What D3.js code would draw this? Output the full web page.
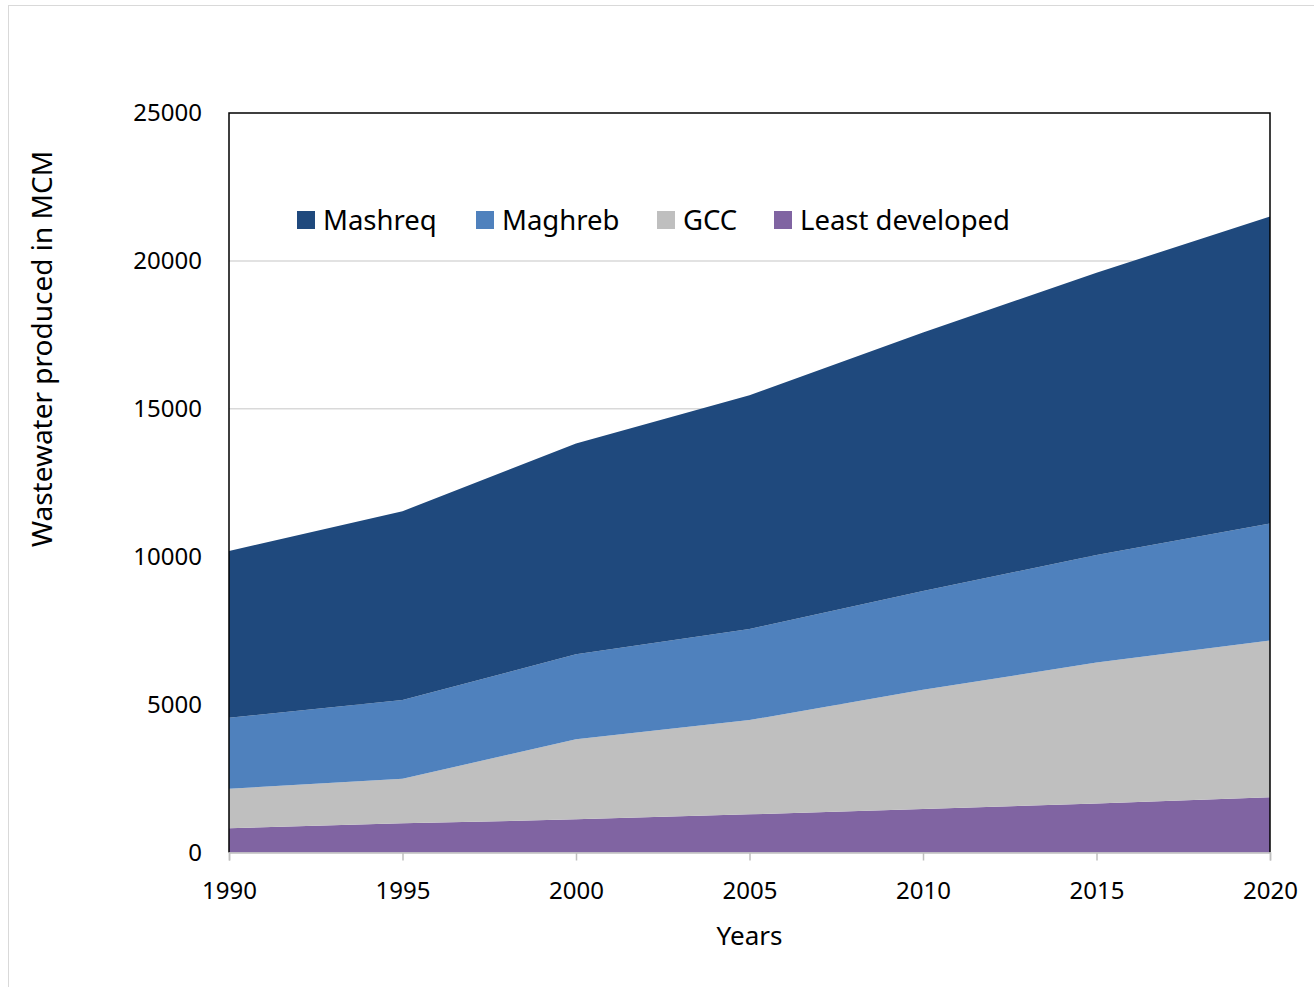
<!DOCTYPE html>
<html><head><meta charset="utf-8">
<script src="https://cdn.jsdelivr.net/npm/d3@7"></script>
<style>body{margin:0;background:#fff}svg{display:block}text{font-family:"Noto Sans","Open Sans",sans-serif;fill:#000}</style>
</head><body>
<svg id="c" width="1314" height="987"></svg>
<script>
const years = [1990, 1995, 2000, 2005, 2010, 2015, 2020];
const seriesNames = ["Mashreq", "Maghreb", "GCC", "Least developed"];
const leastDeveloped = [820, 985, 1120, 1290, 1470, 1660, 1870];
const gcc = [1335, 1510, 2705, 3186, 4030, 4760, 5300];
const maghreb = [2400, 2657, 2875, 3084, 3340, 3640, 3950];
const mashreq = [5640, 6385, 7125, 7895, 8740, 9540, 10380];
const yTicks = [0, 5000, 10000, 15000, 20000, 25000];
const colors = {"Mashreq": "#1F497D", "Maghreb": "#4F81BD", "GCC": "#BFBFBF", "Least developed": "#8064A2"};

const rows = years.map((y, i) => ({year: y, "Least developed": leastDeveloped[i], "GCC": gcc[i], "Maghreb": maghreb[i], "Mashreq": mashreq[i]}));
const stackKeys = ["Least developed", "GCC", "Maghreb", "Mashreq"];
const stacked = d3.stack().keys(stackKeys)(rows);

const svg = d3.select("#c");
const L = 229, R = 1270, T = 113, B = 852.5;
svg.append("rect").attr("x", 8.5).attr("y", 5.5).attr("width", 1310).attr("height", 985).attr("fill", "#fff").attr("stroke", "#d9d9d9").attr("stroke-width", 1);

const x = d3.scaleLinear().domain([1990, 2020]).range([L, R]);
const y = d3.scaleLinear().domain([0, 25000]).range([B, T]);

// gridlines
svg.append("g").selectAll("line").data(yTicks.filter(d => d > 0 && d < 25000)).join("line")
  .attr("x1", L).attr("x2", R).attr("y1", d => y(d)).attr("y2", d => y(d))
  .attr("stroke", "#d9d9d9").attr("stroke-width", 1.5);

const area = d3.area().x(d => x(d.data.year)).y0(d => y(d[0])).y1(d => y(d[1]));
svg.append("g").selectAll("path").data(stacked).join("path")
  .attr("d", area).attr("fill", d => colors[d.key]);

// frame top/left/right
svg.append("path").attr("d", `M${L},${B}V${T}H${R}V${B}`).attr("fill", "none").attr("stroke", "#000").attr("stroke-width", 1.5);

// x axis
const xAxis = d3.axisBottom(x).tickValues(years).tickFormat(d3.format("d")).tickSize(8).tickPadding(21);
const gx = svg.append("g").attr("transform", `translate(0,${B})`).call(xAxis);
gx.select(".domain").attr("stroke", "#bfbfbf").attr("stroke-width", 1.5);
gx.selectAll(".tick line").attr("stroke", "#bfbfbf").attr("stroke-width", 1.5);
gx.selectAll(".tick text").attr("font-size", 24).attr("font-family", '"Noto Sans",sans-serif');

// y axis
const yAxis = d3.axisLeft(y).tickValues(yTicks).tickFormat(d3.format("d")).tickSize(0).tickPadding(27);
const gy = svg.append("g").attr("transform", `translate(${L},0)`).call(yAxis);
gy.select(".domain").remove();
gy.selectAll(".tick text").attr("font-size", 24).attr("font-family", '"Noto Sans",sans-serif');

// axis titles
svg.append("text").attr("x", (L + R) / 2).attr("y", 945).attr("text-anchor", "middle").attr("font-size", 26).text("Years");
svg.append("text").attr("transform", "translate(52,349) rotate(-90)").attr("text-anchor", "middle").attr("font-size", 28).text("Wastewater produced in MCM");

// legend
const legX = [297, 476, 657, 774];
const leg = svg.append("g").selectAll("g").data(seriesNames).join("g")
  .attr("transform", (d, i) => `translate(${legX[i]},211)`);
leg.append("rect").attr("width", 18).attr("height", 18).attr("fill", d => colors[d]);
leg.append("text").attr("x", 26).attr("y", 19).attr("font-size", 27.5).text(d => d);
</script>
</body></html>
